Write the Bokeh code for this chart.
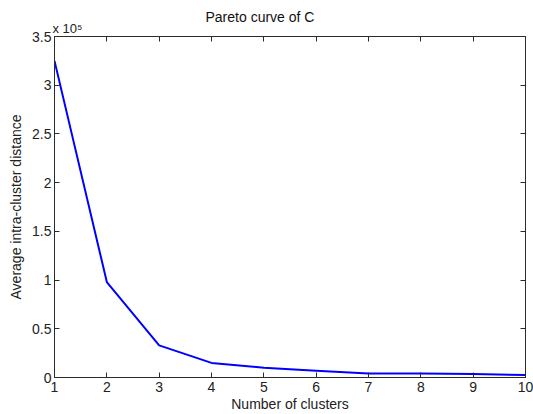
from bokeh.plotting import figure
from bokeh.models import LinearAxis, FixedTicker, Title, Range1d, CustomJSTickFormatter
from bokeh.embed import file_html
from bokeh.resources import INLINE

clusters = [1, 2, 3, 4, 5, 6, 7, 8, 9, 10]
avg_dist_e5 = [3.25, 0.98, 0.33, 0.15, 0.10, 0.07, 0.04, 0.04, 0.035, 0.025]
x_ticks = [1, 2, 3, 4, 5, 6, 7, 8, 9, 10]
y_ticks = [0, 0.5, 1, 1.5, 2, 2.5, 3, 3.5]
title_text = "Pareto curve of C"
scale_text = "x 10\u2075"
x_label = "Number of clusters"
y_label = "Average intra-cluster distance"

FONT = "Liberation Sans"
FS = "14px"
AX = "#2b2b2b"
TXT = "#222222"

p = figure(width=533, height=414, output_backend="svg", toolbar_location=None,
           x_range=Range1d(1, 10), y_range=Range1d(0, 3.5),
           min_border_left=54, min_border_right=8, min_border_top=36, min_border_bottom=34,
           x_axis_location=None, y_axis_location=None)
p.outline_line_color = AX
p.xgrid.visible = False
p.ygrid.visible = False
p.background_fill_color = "white"
p.border_fill_color = "white"

def style(ax, labels=True):
    ax.major_tick_in = 5
    ax.major_tick_out = 0
    ax.minor_tick_in = 0
    ax.minor_tick_out = 0
    ax.axis_line_color = AX
    ax.major_tick_line_color = AX
    ax.major_label_text_font = FONT
    ax.major_label_text_font_size = FS
    ax.major_label_text_color = TXT
    ax.axis_label_text_font = FONT
    ax.axis_label_text_font_size = FS
    ax.axis_label_text_font_style = "normal"
    ax.axis_label_text_color = TXT
    if not labels:
        ax.formatter = CustomJSTickFormatter(code="return '';")
        ax.major_label_text_font_size = "0px"

bottom = LinearAxis(ticker=FixedTicker(ticks=x_ticks), axis_label=x_label,
                    major_label_standoff=4, axis_label_standoff=1)
left = LinearAxis(ticker=FixedTicker(ticks=y_ticks), axis_label=y_label,
                  major_label_standoff=3, axis_label_standoff=5)
top = LinearAxis(ticker=FixedTicker(ticks=x_ticks))
right = LinearAxis(ticker=FixedTicker(ticks=y_ticks))
style(bottom); style(left); style(top, False); style(right, False)
left.major_label_overrides = {0: "0", 1: "1", 2: "2", 3: "3"}
p.add_layout(bottom, "below")
p.add_layout(left, "left")
p.add_layout(top, "above")
p.add_layout(right, "right")

p.line(clusters, avg_dist_e5, line_color="#0000ff", line_width=2)

p.add_layout(Title(text=scale_text, align="left", offset=-2, standoff=1,
                   text_font=FONT, text_font_size="13px", text_font_style="normal",
                   text_color=TXT), "above")
p.add_layout(Title(text=title_text, align="left", offset=151, standoff=-13,
                   text_font=FONT, text_font_size="14px", text_font_style="normal",
                   text_color="#111111"), "above")

open("out.html", "w").write(file_html(p, INLINE))
